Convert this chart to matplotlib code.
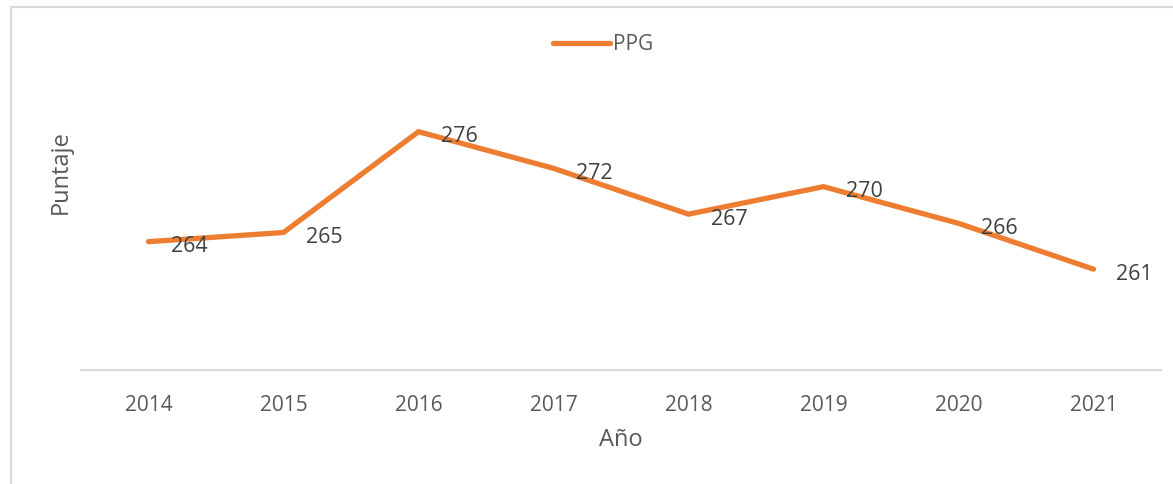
import matplotlib.pyplot as plt
from matplotlib.patches import Rectangle

years = ["2014", "2015", "2016", "2017", "2018", "2019", "2020", "2021"]
ppg = [264, 265, 276, 272, 267, 270, 266, 261]

line_color = "#ED7D31"
text_color = "#595959"
grid_color = "#D9D9D9"

plt.rcParams["font.family"] = ["Open Sans", "DejaVu Sans"]

fig = plt.figure(figsize=(11.73, 4.84), dpi=100)
ax = fig.add_axes([81 / 1173, 1 - 370 / 484, 1080 / 1173, 275 / 484])

# chart border (only the top-left part is visible in the crop)
fig.patches.append(Rectangle((11 / 1173, -0.1), 1.2, (484 - 7) / 484 + 0.1,
                             transform=fig.transFigure, fill=False,
                             edgecolor=grid_color, linewidth=1.5))

x = list(range(len(years)))
ax.plot(x, ppg, color=line_color, linewidth=3.8, solid_capstyle="round",
        label="PPG")

for xi, v in zip(x, ppg):
    ax.annotate(str(v), (xi, v), xytext=(16, -3.5), textcoords="offset points",
                ha="left", va="center", fontsize=15.5, color="#404040")

ax.set_xlim(-0.5, len(years) - 0.5)
ax.set_ylim(250, 280)
ax.set_xticks(x)
ax.set_xticklabels(years, fontsize=15, color=text_color)
ax.tick_params(axis="x", length=0, pad=18)
ax.set_yticks([])

for s in ["top", "right", "left"]:
    ax.spines[s].set_visible(False)
ax.spines["bottom"].set_color(grid_color)
ax.spines["bottom"].set_linewidth(1.5)

ax.set_xlabel("Año", fontsize=17, color=text_color, labelpad=9)
fig.text(61 / 1173, 1 - 172 / 484, "Puntaje", rotation=90, fontsize=17,
         color=text_color, ha="center", va="center")

fig.legend(loc="center", bbox_to_anchor=(603 / 1173, 1 - 45 / 484),
           frameon=False, fontsize=15, labelcolor=text_color,
           handlelength=2.7, handletextpad=0.15)

fig.savefig("out.png", dpi=100)
